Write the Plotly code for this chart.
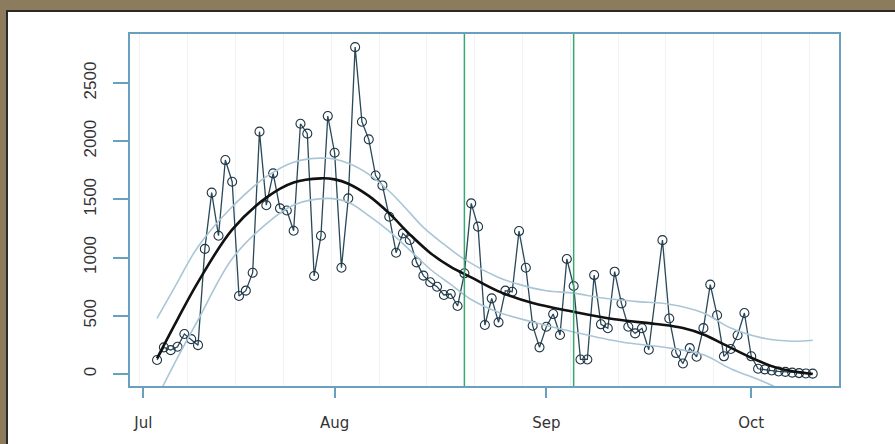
import plotly.graph_objects as go
import pandas as pd

# ---- data ----
season_start = "2013-07-01"
obs_day = list(range(5, 78)) + list(range(79, 102))   # days after season start (day 78 missing)
counts = [
    120, 229, 205, 234, 344, 300, 248, 1075, 1558, 1188,
    1838, 1652, 670, 716, 870, 2082, 1450, 1724, 1423, 1405,
    1231, 2150, 2065, 842, 1188, 2216, 1901, 913, 1509, 2808,
    2167, 2016, 1705, 1620, 1351, 1042, 1208, 1151, 959, 845,
    788, 750, 679, 687, 584, 865, 1466, 1266, 421, 650,
    444, 716, 707, 1228, 913, 415, 229, 406, 515, 335,
    988, 756, 125, 125, 850, 427, 393, 879, 607, 406,
    349, 393, 209,
    1150, 477, 180, 90, 222, 148, 394, 768, 505, 152,
    215, 333, 524, 152, 45, 40, 30, 22, 18, 12,
    8, 5, 3,
]

fit_day = [5, 8, 11, 16, 21, 25, 29, 31, 33, 36, 39, 42, 45, 48, 51, 55, 60, 66, 72, 78, 82, 85, 88, 92, 96, 101]
fit_val = [135, 470, 790, 1240, 1515, 1645, 1681, 1672, 1635, 1530, 1380, 1200, 1040, 920, 830, 710, 610, 535, 470, 430, 395, 340, 255, 140, 50, 0]

upper_day = [5, 8, 11, 16, 21, 25, 30, 33, 36, 39, 41, 44, 47, 50, 55, 58, 62, 66, 70, 75, 80, 85, 89, 94, 98, 101]
upper_val = [478, 790, 1094, 1437, 1695, 1820, 1853, 1810, 1715, 1570, 1450, 1260, 1115, 985, 830, 770, 715, 695, 655, 624, 600, 525, 395, 305, 282, 290]

lower_day = [5, 8, 11, 16, 21, 25, 30, 33, 36, 39, 42, 45, 48, 51, 55, 60, 66, 73, 79, 85, 89, 95, 101]
lower_val = [-205, 140, 464, 990, 1290, 1452, 1509, 1475, 1360, 1225, 1065, 900, 770, 640, 530, 447, 361, 275, 232, 165, 45, -97, -300]

event_dates = ["2013-08-20", "2013-09-05"]
month_tick_dates = ["2013-07-04", "2013-08-01", "2013-09-01", "2013-10-01"]
month_labels = ["Jul", "Aug", "Sep", "Oct"]
y_ticks = [0, 500, 1000, 1500, 2000, 2500]
x_range_days = [1.04, 104.85]
y_range = [-103, 2921]

# ---- helpers ----
start = pd.Timestamp(season_start)
def to_date(days):
    return [start + pd.Timedelta(days=float(d)) for d in days]

AX = "#6a9fc0"
FRAME = "#8c7b5c"

fig = go.Figure()

fig.add_trace(go.Scatter(
    x=to_date(obs_day), y=counts, mode="lines+markers",
    line=dict(color="#2a4858", width=1.3),
    marker=dict(symbol="circle-open", size=9, color="#1e3442", line=dict(width=1.1)),
))
for dd, vv in [(upper_day, upper_val), (lower_day, lower_val)]:
    fig.add_trace(go.Scatter(
        x=to_date(dd), y=vv, mode="lines",
        line=dict(color="#a9c6d6", width=1.6, shape="spline", smoothing=1.0),
    ))
fig.add_trace(go.Scatter(
    x=to_date(fit_day), y=fit_val, mode="lines",
    line=dict(color="#111111", width=2.6, shape="spline", smoothing=1.0),
))

for d in event_dates:
    fig.add_vline(x=pd.Timestamp(d).timestamp() * 1000, line_color="#3aa76d", line_width=1.5)

# white panel over the brown frame
fig.add_shape(type="rect", xref="paper", yref="paper",
              x0=(7 - 130) / 709, x1=1.3, y0=-0.4, y1=(386 - 11) / 352,
              fillcolor="white", line=dict(color="#2a2a2a", width=2), layer="below")

fig.update_layout(
    width=895, height=444,
    margin=dict(l=130, r=56, t=34, b=58),
    paper_bgcolor=FRAME, plot_bgcolor="white",
    showlegend=False,
)
fig.update_xaxes(
    type="date", range=to_date(x_range_days),
    tickmode="array", tickvals=month_tick_dates, ticktext=month_labels,
    ticks="outside", ticklen=10, tickwidth=2, tickcolor=AX,
    showline=True, linecolor=AX, linewidth=2, mirror=True,
    showgrid=False, zeroline=False,
    tickfont=dict(family="DejaVu Sans", size=15, color="#333333"),
    ticklabelstandoff=12,
    minor=dict(tick0=to_date([2.5])[0], dtick=7 * 86400000, showgrid=True,
               gridcolor="#eef3f7", gridwidth=1, ticks=""),
)
fig.update_yaxes(
    range=y_range, tickmode="array", tickvals=y_ticks,
    tickangle=-90,
    ticks="outside", ticklen=15, tickwidth=2, tickcolor=AX,
    showline=True, linecolor=AX, linewidth=2, mirror=True,
    showgrid=False, zeroline=False,
    tickfont=dict(family="Liberation Sans", size=17, color="#333333"),
    ticklabelstandoff=10,
)

fig.write_html("out.html",
               config={"displayModeBar": False},
               post_script="document.body.style.margin='0px';"
                           "document.body.style.background='" + FRAME + "';")
